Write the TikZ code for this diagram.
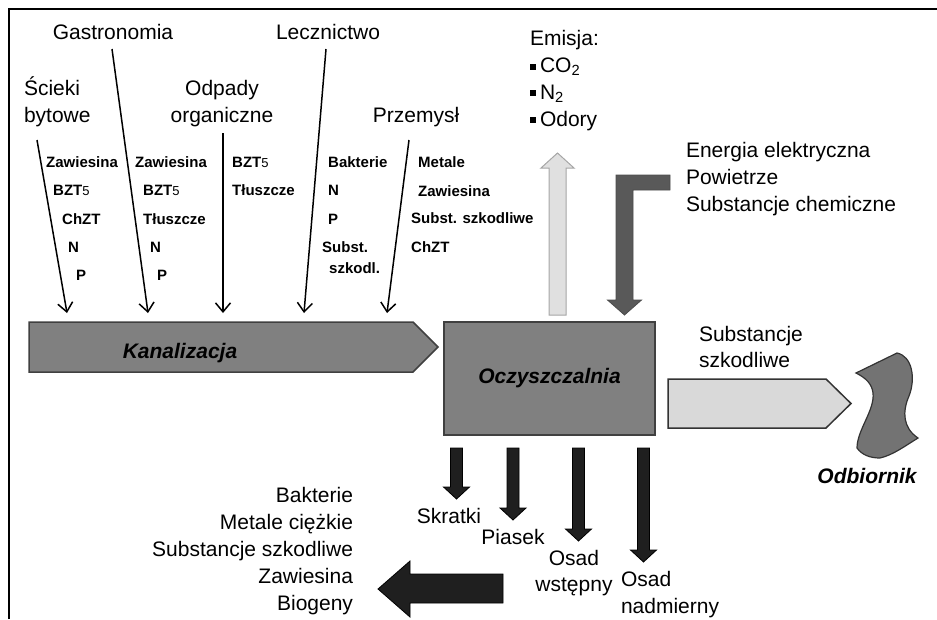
\documentclass[tikz,border=0pt]{standalone}
\usepackage{fontspec}
\setmainfont{Liberation Sans}
\usetikzlibrary{arrows.meta}

\newcommand{\bzt}{BZT{\mdseries\fontsize{13}{13}\selectfont 5}}
\newcommand{\sqbullet}{\rule[3pt]{6pt}{6pt}\hspace{4pt}}

\tikzset{
	big/.style={font=\fontsize{21}{27}\selectfont,inner sep=0,outer sep=0},
	small/.style={font=\bfseries\fontsize{15}{15}\selectfont,inner sep=0,anchor=base west},
	title/.style={font=\bfseries\itshape\fontsize{21}{21}\selectfont,inner sep=0,anchor=base},
	inflow/.style={-{Straight Barb[length=9pt,width=15pt]},line width=1.5pt},
	pipe/.style={fill=black!50,draw=black!75,line width=1.5pt},
	outflow/.style={fill=black!15,draw=black!80,line width=1.5pt},
	emission/.style={fill=black!12,draw=black!35,line width=1pt},
	supply/.style={fill=black!65,draw=black!70,line width=0.8pt},
	sludge/.style={fill=black!88,draw=black,line width=0.8pt},
}

\begin{document}
\begin{tikzpicture}[x=1pt,y=-1pt]
	\useasboundingbox (0,0) rectangle (937,619);
	\draw[line width=2.5pt] (9,619) -- (9,9) -- (937,9);

	% sources (multi-line nodes sit on their last line)
	\node[big,anchor=base west,align=left] (scieki) at (24,122) {Ścieki\\bytowe};
	\node[big,anchor=base] (gastro) at (113,39) {Gastronomia};
	\node[big,anchor=base,align=center] (odpady) at (222,122) {Odpady\\organiczne};
	\node[big,anchor=base] (leczn) at (328,39) {Lecznictwo};
	\node[big,anchor=base] (przem) at (416,122) {Przemysł};

	\coordinate (s1) at (37,140); \coordinate (k1) at (67,313);
	\coordinate (s2) at (112,49); \coordinate (k2) at (148,313);
	\coordinate (s3) at (223,133); \coordinate (k3) at (223,313);
	\coordinate (s4) at (326,49); \coordinate (k4) at (304,313);
	\coordinate (s5) at (409,140); \coordinate (k5) at (387,313);
	\draw[inflow] (s1) -- (k1);
	\draw[inflow] (s2) -- (k2);
	\draw[inflow] (s3) -- (k3);
	\draw[inflow] (s4) -- (k4);
	\draw[inflow] (s5) -- (k5);

	% pollutants per source
	\foreach \txt/\x/\y [count=\i] in {Zawiesina/46/167,\bzt/53/195,ChZT/62/224,N/68/252,P/76/280}
		\node[small] (a\i) at (\x,\y) {\txt};
	\foreach \txt/\x/\y [count=\i] in {Zawiesina/135/167,\bzt/143/195,Tłuszcze/143/224,N/150/252,P/157/280}
		\node[small] (b\i) at (\x,\y) {\txt};
	\foreach \txt/\x/\y [count=\i] in {\bzt/232/167,Tłuszcze/232/195}
		\node[small] (c\i) at (\x,\y) {\txt};
	\foreach \txt/\x/\y [count=\i] in {Bakterie/328/167,N/328/195,P/328/224,Subst./322/252,szkodl./329/273}
		\node[small] (d\i) at (\x,\y) {\txt};
	\foreach \txt/\x/\y [count=\i] in {Metale/418/167,Zawiesina/418/196,Subst. szkodliwe/411/223,ChZT/411/252}
		\node[small] (e\i) at (\x,\y) {\txt};

	% sewer and plant
	\draw[pipe] (29,322) -- (413,322) -- (438,347) -- (413,372) -- (29,372) -- cycle;
	\node[title] (kanal) at (180,358) {Kanalizacja};
	\node[pipe,minimum width=211,minimum height=113,font=\bfseries\itshape\fontsize{21}{21}\selectfont] (oczy) at (549.5,378.5) {Oczyszczalnia};

	% emission and supply
	\draw[emission] (549,315) -- (549,168) -- (541,168) -- (557.5,153) -- (574,168) -- (566,168) -- (566,315) -- cycle;
	\node[big,anchor=base west,align=left,font=\fontsize{21}{26.7}\selectfont] (emisja) at (530,126)
		{Emisja:\\\sqbullet CO\textsubscript{2}\\\sqbullet N\textsubscript{2}\\\sqbullet Odory};
	\draw[supply] (670,175) -- (616,175) -- (616,300) -- (607.5,300) -- (624.5,315) -- (641.5,300) -- (633,300) -- (633,190) -- (670,190) -- cycle;
	\node[big,anchor=base west,align=left] (zasil) at (686,211)
		{Energia elektryczna\\Powietrze\\Substancje chemiczne};

	% receiver
	\draw[outflow] (668,379) -- (826,379) -- (851,403.5) -- (826,428) -- (668,428) -- cycle;
	\node[big,anchor=base west,align=left,font=\fontsize{21}{26}\selectfont] (szkodl) at (699,367) {Substancje\\szkodliwe};
	\draw[fill=black!55,draw=black!80,line width=1.2pt] (856,373) -- (897,353)
		.. controls (912,356) and (916,378) .. (909,396)
		.. controls (902,412) and (903,428) .. (918,438)
		.. controls (905,446) and (893,455) .. (880,458)
		.. controls (870,458) and (862,455) .. (857,448)
		.. controls (857,430) and (875,410) .. (873,393)
		.. controls (872,384) and (866,378) .. (856,373) -- cycle;
	\node[title] (odbior) at (867,483) {Odbiornik};

	% residues
	\draw[sludge] (450.5,448) -- (462.5,448) -- (462.5,487) -- (469.5,487) -- (456.5,499) -- (443.5,487) -- (450.5,487) -- cycle;
	\draw[sludge] (507,448) -- (519,448) -- (519,508) -- (526,508) -- (513,520) -- (500,508) -- (507,508) -- cycle;
	\draw[sludge] (572.5,448) -- (584.5,448) -- (584.5,529) -- (591.5,529) -- (578.5,541) -- (565.5,529) -- (572.5,529) -- cycle;
	\draw[sludge] (637.5,448) -- (649.5,448) -- (649.5,550) -- (656.5,550) -- (643.5,562) -- (630.5,550) -- (637.5,550) -- cycle;
	\node[big,anchor=base] (skratki) at (449,523) {Skratki};
	\node[big,anchor=base] (piasek) at (513,544) {Piasek};
	\node[big,anchor=base,align=center,font=\fontsize{21}{26}\selectfont] (wstep) at (574,591) {Osad\\wstępny};
	\node[big,anchor=base west,align=left] (nadm) at (621,613) {Osad\\nadmierny};

	\draw[sludge] (503,574) -- (410,574) -- (410,561) -- (378,589) -- (410,617) -- (410,603) -- (503,603) -- cycle;
	\node[big,anchor=base east,align=right] (reszta) at (353,610)
		{Bakterie\\Metale ciężkie\\Substancje szkodliwe\\Zawiesina\\Biogeny};
\end{tikzpicture}
\end{document}
